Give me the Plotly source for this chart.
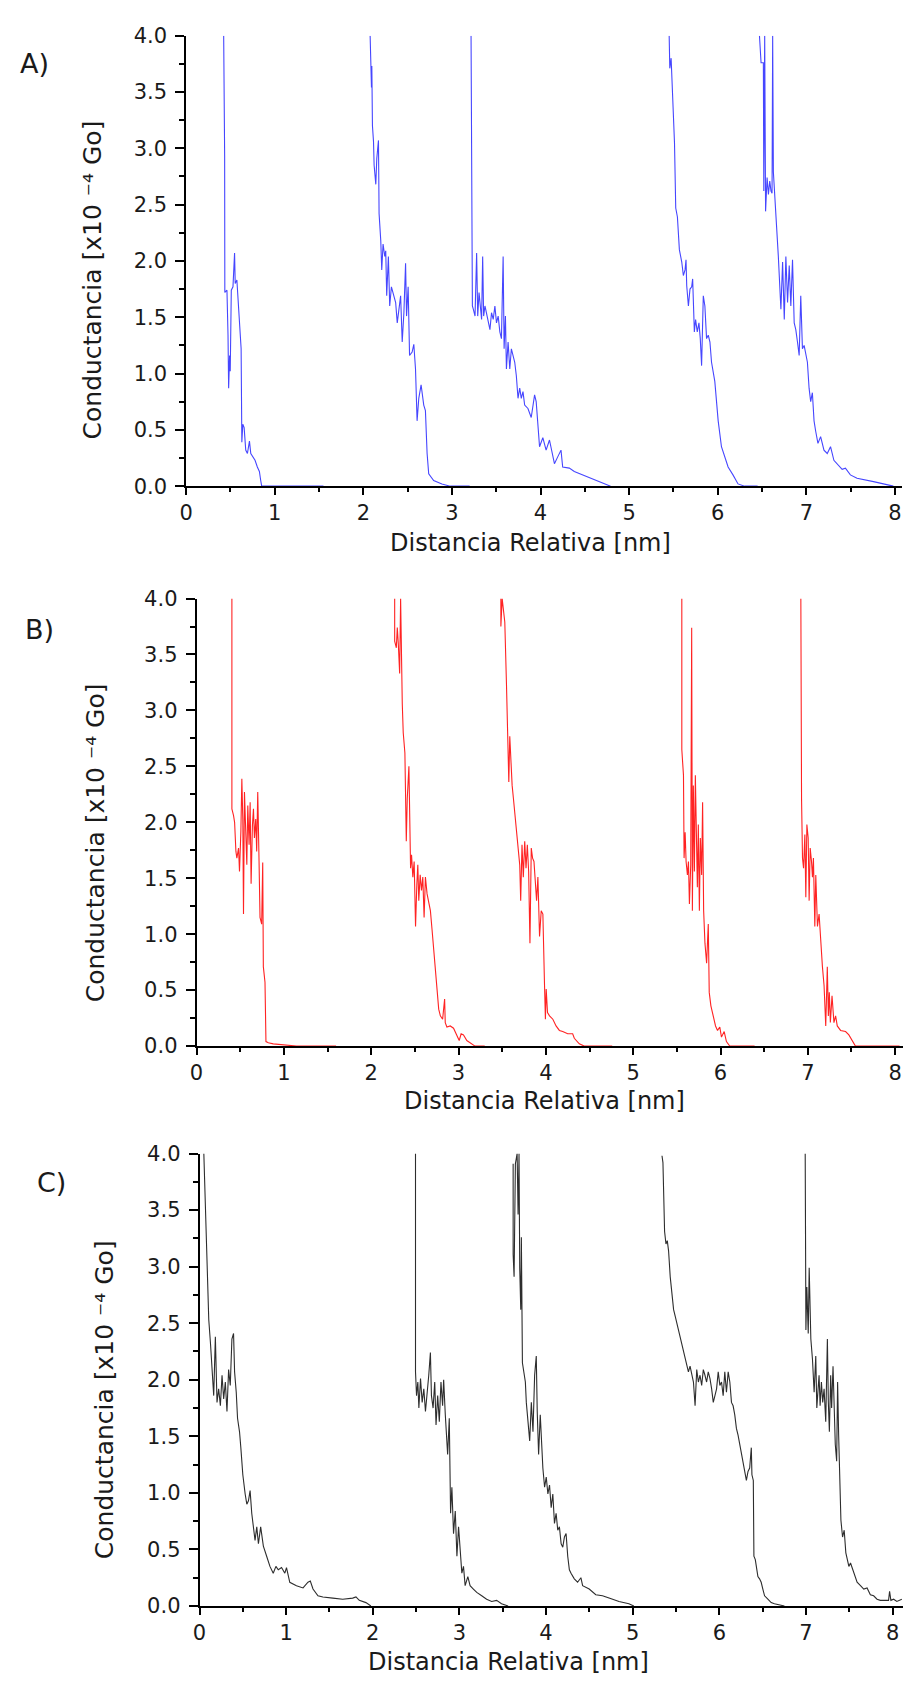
import plotly.graph_objects as go

W, H = 906, 1688

# ---------------- data (x [nm], conductance [x10^-4 Go]) ----------------
# Panel A (blue)
A1 = [(0.424, 4.00), (0.435, 2.93), (0.437, 1.72), (0.461, 1.74), (0.473, 1.34), (0.480, 0.87),
      (0.491, 1.16), (0.498, 1.02), (0.510, 1.74), (0.529, 1.77), (0.547, 2.07), (0.554, 1.80),
      (0.573, 1.83), (0.580, 1.74), (0.592, 1.54), (0.610, 1.39), (0.621, 1.22), (0.629, 0.39),
      (0.640, 0.55), (0.655, 0.52), (0.673, 0.32), (0.692, 0.29), (0.715, 0.40), (0.730, 0.29),
      (0.752, 0.26), (0.778, 0.23), (0.804, 0.17), (0.827, 0.13), (0.842, 0.05), (0.853, 0.0),
      (1.55, 0.0)]
A2 = [(2.077, 4.00), (2.085, 3.82), (2.092, 3.54), (2.096, 3.73), (2.103, 3.20), (2.115, 3.06),
      (2.122, 2.85), (2.141, 2.68), (2.152, 2.91), (2.171, 3.07), (2.178, 2.42), (2.197, 2.18),
      (2.208, 1.92), (2.223, 2.15), (2.242, 2.04), (2.253, 2.09), (2.264, 1.69), (2.283, 2.04),
      (2.298, 1.60), (2.317, 1.77), (2.335, 1.72), (2.365, 1.63), (2.383, 1.45), (2.402, 1.57),
      (2.421, 1.69), (2.439, 1.28), (2.458, 1.54), (2.477, 1.98), (2.488, 1.51), (2.506, 1.77),
      (2.522, 1.16), (2.551, 1.19), (2.570, 1.26), (2.589, 1.04), (2.607, 0.58), (2.626, 0.78),
      (2.652, 0.90), (2.682, 0.72), (2.701, 0.67), (2.720, 0.29), (2.738, 0.11), (2.794, 0.05),
      (2.887, 0.02), (2.981, 0.0), (3.20, 0.0)]
A3 = [(3.216, 4.00), (3.231, 1.60), (3.242, 1.57), (3.261, 1.51), (3.279, 2.07), (3.291, 1.51),
      (3.306, 1.72), (3.320, 1.60), (3.335, 1.48), (3.347, 2.04), (3.358, 1.51), (3.373, 1.60),
      (3.391, 1.54), (3.410, 1.45), (3.429, 1.39), (3.447, 1.54), (3.466, 1.48), (3.485, 1.60),
      (3.503, 1.45), (3.522, 1.51), (3.541, 1.37), (3.559, 1.31), (3.578, 2.04), (3.589, 1.22),
      (3.604, 1.51), (3.615, 1.04), (3.634, 1.28), (3.653, 1.04), (3.671, 1.22), (3.709, 1.10),
      (3.727, 0.98), (3.746, 0.78), (3.765, 0.87), (3.783, 0.78), (3.802, 0.84), (3.821, 0.72),
      (3.858, 0.69), (3.895, 0.61), (3.933, 0.81), (3.951, 0.75), (3.970, 0.52), (3.989, 0.35),
      (4.026, 0.43), (4.063, 0.32), (4.101, 0.41), (4.130, 0.29), (4.157, 0.20), (4.194, 0.26),
      (4.231, 0.32), (4.250, 0.17), (4.325, 0.16), (4.381, 0.13), (4.474, 0.10), (4.661, 0.04),
      (4.791, 0.0)]
A4 = [(5.452, 4.00), (5.459, 3.71), (5.474, 3.80), (5.500, 3.36), (5.512, 3.05), (5.526, 2.47),
      (5.545, 2.39), (5.567, 2.10), (5.594, 1.99), (5.612, 1.87), (5.631, 1.92), (5.642, 2.01),
      (5.650, 1.78), (5.669, 1.60), (5.687, 1.75), (5.706, 1.77), (5.717, 1.84), (5.736, 1.37),
      (5.750, 1.48), (5.769, 1.37), (5.788, 1.45), (5.803, 1.31), (5.818, 1.07), (5.837, 1.69),
      (5.855, 1.60), (5.874, 1.31), (5.893, 1.34), (5.912, 1.28), (5.930, 1.10), (5.967, 0.93),
      (6.005, 0.58), (6.042, 0.35), (6.079, 0.26), (6.117, 0.17), (6.172, 0.10), (6.229, 0.02),
      (6.303, 0.0), (6.45, 0.0)]
A5 = [(6.471, 4.00), (6.489, 3.76), (6.515, 3.76), (6.520, 2.62), (6.530, 4.00), (6.540, 2.44),
      (6.557, 2.74), (6.572, 2.59), (6.587, 2.71), (6.601, 2.62), (6.613, 2.60), (6.620, 4.00),
      (6.628, 2.79), (6.650, 2.50), (6.669, 2.33), (6.684, 2.04), (6.713, 1.57), (6.732, 1.99),
      (6.751, 1.48), (6.769, 2.04), (6.788, 1.63), (6.807, 1.96), (6.825, 1.60), (6.844, 2.01),
      (6.863, 1.45), (6.881, 1.39), (6.900, 1.28), (6.919, 1.16), (6.937, 1.69), (6.956, 1.22),
      (6.975, 1.25), (6.993, 1.16), (7.012, 1.10), (7.031, 0.87), (7.049, 0.75), (7.068, 0.83),
      (7.087, 0.58), (7.105, 0.49), (7.131, 0.38), (7.161, 0.44), (7.199, 0.32), (7.236, 0.29),
      (7.273, 0.35), (7.311, 0.23), (7.348, 0.20), (7.404, 0.15), (7.441, 0.16), (7.497, 0.10),
      (7.572, 0.07), (7.646, 0.06), (7.758, 0.04), (7.870, 0.02), (7.982, 0.0)]

# Panel B (red)
B1 = [(0.405, 4.00), (0.405, 2.12), (0.424, 2.06), (0.436, 2.00), (0.451, 1.74), (0.462, 1.68),
      (0.481, 1.77), (0.492, 1.56), (0.508, 1.92), (0.519, 2.39), (0.530, 2.03), (0.538, 1.18),
      (0.549, 2.27), (0.564, 1.86), (0.576, 1.62), (0.587, 2.15), (0.602, 1.80), (0.614, 2.18),
      (0.625, 1.45), (0.640, 1.97), (0.652, 2.12), (0.663, 1.86), (0.678, 2.03), (0.689, 1.74),
      (0.701, 2.27), (0.716, 1.65), (0.727, 1.15), (0.746, 1.09), (0.758, 1.64), (0.765, 0.71),
      (0.784, 0.57), (0.795, 0.04), (0.822, 0.03), (0.879, 0.02), (0.992, 0.01), (1.144, 0.0),
      (1.598, 0.0)]
B2 = [(2.269, 4.00), (2.269, 3.62), (2.288, 3.56), (2.299, 3.74), (2.311, 3.59), (2.326, 3.33),
      (2.337, 4.00), (2.345, 3.44), (2.356, 3.06), (2.367, 2.80), (2.386, 2.62), (2.402, 1.83),
      (2.413, 2.21), (2.432, 2.50), (2.443, 1.74), (2.451, 1.59), (2.462, 1.71), (2.477, 1.51),
      (2.492, 1.65), (2.508, 1.07), (2.523, 1.45), (2.534, 1.62), (2.545, 1.30), (2.561, 1.53),
      (2.576, 1.39), (2.591, 1.51), (2.606, 1.15), (2.621, 1.51), (2.640, 1.36), (2.659, 1.27),
      (2.678, 1.21), (2.697, 1.04), (2.716, 0.86), (2.735, 0.68), (2.754, 0.57), (2.773, 0.33),
      (2.792, 0.27), (2.818, 0.24), (2.841, 0.42), (2.848, 0.21), (2.867, 0.17), (2.905, 0.18),
      (2.943, 0.16), (2.981, 0.10), (3.008, 0.05), (3.030, 0.11), (3.057, 0.10), (3.095, 0.05),
      (3.152, 0.02), (3.189, 0.0), (3.30, 0.0)]
B3 = [(3.485, 4.00), (3.485, 3.75), (3.500, 4.00), (3.511, 3.91), (3.530, 3.79), (3.549, 3.24),
      (3.561, 2.77), (3.576, 2.36), (3.587, 2.77), (3.598, 2.56), (3.614, 2.33), (3.629, 2.21),
      (3.644, 2.09), (3.663, 1.97), (3.682, 1.83), (3.701, 1.62), (3.712, 1.30), (3.727, 1.80),
      (3.742, 1.51), (3.758, 1.83), (3.773, 1.59), (3.788, 1.80), (3.803, 1.56), (3.818, 0.92),
      (3.833, 1.77), (3.848, 1.68), (3.864, 1.65), (3.879, 1.45), (3.894, 1.30), (3.909, 1.51),
      (3.928, 0.98), (3.947, 1.21), (3.966, 1.18), (3.985, 0.54), (3.995, 0.24), (4.004, 0.51),
      (4.019, 0.30), (4.042, 0.27), (4.080, 0.24), (4.117, 0.18), (4.155, 0.14), (4.193, 0.13),
      (4.250, 0.11), (4.307, 0.11), (4.326, 0.07), (4.383, 0.02), (4.439, 0.0), (4.76, 0.0)]
B4 = [(5.557, 4.00), (5.557, 2.65), (5.576, 2.42), (5.583, 1.68), (5.595, 1.91), (5.606, 1.65),
      (5.621, 1.53), (5.633, 1.65), (5.644, 1.27), (5.659, 1.62), (5.670, 3.74), (5.678, 1.21),
      (5.689, 2.33), (5.701, 1.56), (5.712, 2.42), (5.723, 1.86), (5.735, 1.42), (5.746, 1.98),
      (5.758, 1.21), (5.769, 1.86), (5.784, 1.53), (5.795, 2.18), (5.807, 1.21), (5.822, 0.92),
      (5.841, 0.74), (5.860, 1.09), (5.871, 0.48), (5.890, 0.36), (5.917, 0.27), (5.943, 0.18),
      (5.966, 0.14), (5.992, 0.17), (6.011, 0.08), (6.042, 0.13), (6.068, 0.04), (6.106, 0.0),
      (6.39, 0.0)]
B5 = [(6.920, 4.00), (6.920, 2.39), (6.928, 2.21), (6.939, 1.68), (6.951, 1.59), (6.966, 1.89),
      (6.977, 1.33), (6.989, 1.98), (7.004, 1.86), (7.015, 1.30), (7.027, 1.77), (7.042, 1.65),
      (7.053, 1.51), (7.064, 1.68), (7.080, 1.07), (7.091, 1.53), (7.110, 1.07), (7.129, 1.18),
      (7.148, 0.92), (7.167, 0.71), (7.186, 0.54), (7.205, 0.18), (7.223, 0.71), (7.235, 0.27),
      (7.246, 0.48), (7.258, 0.21), (7.277, 0.45), (7.299, 0.21), (7.318, 0.27), (7.337, 0.18),
      (7.375, 0.14), (7.432, 0.13), (7.470, 0.10), (7.508, 0.05), (7.545, 0.0), (8.05, 0.0)]

# Panel C (black)
C1 = [(0.050, 4.00), (0.069, 3.49), (0.080, 3.31), (0.088, 3.11), (0.095, 2.85), (0.107, 2.53),
      (0.126, 2.33), (0.145, 2.09), (0.164, 1.86), (0.183, 2.38), (0.195, 2.09), (0.202, 1.80),
      (0.221, 1.92), (0.241, 1.77), (0.260, 2.04), (0.279, 1.83), (0.298, 1.98), (0.317, 1.72),
      (0.336, 2.09), (0.355, 1.95), (0.374, 2.36), (0.393, 2.41), (0.405, 2.07), (0.424, 1.89),
      (0.439, 1.66), (0.462, 1.54), (0.477, 1.40), (0.500, 1.16), (0.527, 0.99), (0.546, 0.90),
      (0.565, 0.93), (0.584, 1.02), (0.603, 0.82), (0.622, 0.70), (0.641, 0.58), (0.661, 0.70),
      (0.680, 0.55), (0.706, 0.70), (0.737, 0.53), (0.775, 0.44), (0.813, 0.35), (0.851, 0.29),
      (0.882, 0.35), (0.909, 0.32), (0.947, 0.34), (0.985, 0.29), (1.004, 0.34), (1.042, 0.21),
      (1.119, 0.18), (1.195, 0.16), (1.252, 0.21), (1.279, 0.22), (1.310, 0.15), (1.367, 0.09),
      (1.424, 0.08), (1.539, 0.07), (1.653, 0.06), (1.768, 0.07), (1.806, 0.08), (1.844, 0.05),
      (1.921, 0.03), (1.978, 0.0)]
C2 = [(2.493, 4.00), (2.493, 2.07), (2.505, 1.86), (2.520, 1.98), (2.532, 1.75), (2.551, 2.01),
      (2.570, 1.80), (2.589, 1.92), (2.608, 1.72), (2.627, 1.86), (2.646, 2.04), (2.665, 2.24),
      (2.677, 1.86), (2.696, 1.75), (2.715, 1.98), (2.730, 1.60), (2.749, 1.86), (2.768, 1.63),
      (2.787, 1.98), (2.806, 1.77), (2.818, 2.00), (2.837, 1.69), (2.848, 1.57), (2.864, 1.34),
      (2.883, 1.66), (2.898, 0.82), (2.913, 1.05), (2.932, 0.64), (2.952, 0.84), (2.971, 0.44),
      (2.990, 0.70), (3.009, 0.50), (3.028, 0.29), (3.047, 0.35), (3.066, 0.18), (3.097, 0.26),
      (3.123, 0.18), (3.161, 0.15), (3.200, 0.12), (3.257, 0.09), (3.314, 0.06), (3.372, 0.04),
      (3.429, 0.05), (3.486, 0.02), (3.562, 0.0)]
C3 = [(3.620, 3.91), (3.620, 3.11), (3.631, 2.91), (3.646, 3.91), (3.666, 4.00), (3.677, 3.46),
      (3.688, 4.00), (3.696, 2.99), (3.708, 2.62), (3.715, 3.26), (3.727, 2.15), (3.746, 2.04),
      (3.761, 1.98), (3.772, 1.80), (3.791, 1.66), (3.811, 1.46), (3.830, 1.80), (3.849, 1.54),
      (3.868, 2.04), (3.887, 2.21), (3.898, 1.72), (3.914, 1.34), (3.933, 1.69), (3.952, 1.31),
      (3.963, 1.22), (3.983, 1.05), (4.002, 1.14), (4.021, 0.99), (4.040, 1.07), (4.059, 0.87),
      (4.078, 0.99), (4.097, 0.73), (4.116, 0.82), (4.135, 0.67), (4.154, 0.70), (4.174, 0.55),
      (4.193, 0.52), (4.212, 0.61), (4.231, 0.64), (4.250, 0.44), (4.269, 0.32), (4.288, 0.29),
      (4.326, 0.24), (4.364, 0.21), (4.402, 0.25), (4.422, 0.18), (4.498, 0.15), (4.574, 0.10),
      (4.651, 0.09), (4.727, 0.07), (4.842, 0.04), (4.956, 0.02), (5.013, 0.0)]
C4 = [(5.338, 3.98), (5.349, 3.92), (5.368, 3.31), (5.384, 3.20), (5.399, 3.23), (5.414, 3.14),
      (5.433, 2.91), (5.452, 2.79), (5.472, 2.62), (5.491, 2.56), (5.510, 2.50), (5.529, 2.44),
      (5.548, 2.38), (5.567, 2.33), (5.586, 2.27), (5.605, 2.21), (5.624, 2.15), (5.643, 2.07),
      (5.662, 2.12), (5.682, 2.04), (5.701, 1.98), (5.720, 1.77), (5.739, 2.09), (5.758, 1.98),
      (5.777, 2.04), (5.796, 1.95), (5.815, 2.09), (5.834, 2.04), (5.853, 1.98), (5.872, 2.07),
      (5.892, 2.01), (5.911, 1.92), (5.930, 1.80), (5.949, 1.86), (5.968, 1.92), (5.987, 2.07),
      (6.006, 1.95), (6.025, 1.98), (6.044, 1.86), (6.063, 2.07), (6.082, 1.89), (6.102, 2.07),
      (6.121, 1.98), (6.140, 1.80), (6.159, 1.77), (6.178, 1.69), (6.197, 1.57), (6.216, 1.51),
      (6.235, 1.43), (6.254, 1.34), (6.273, 1.28), (6.292, 1.19), (6.312, 1.11), (6.331, 1.19),
      (6.350, 1.22), (6.369, 1.40), (6.376, 1.16), (6.392, 1.11), (6.399, 0.44), (6.415, 0.41),
      (6.430, 0.32), (6.445, 0.26), (6.464, 0.24), (6.483, 0.21), (6.502, 0.15), (6.522, 0.09),
      (6.560, 0.06), (6.598, 0.03), (6.636, 0.02), (6.751, 0.0)]
C5 = [(6.991, 4.00), (6.991, 3.40), (6.999, 2.44), (7.010, 2.82), (7.026, 2.41), (7.037, 2.99),
      (7.048, 2.50), (7.056, 2.36), (7.075, 2.18), (7.094, 1.89), (7.113, 2.21), (7.125, 1.75),
      (7.140, 1.92), (7.151, 2.04), (7.163, 1.77), (7.178, 1.98), (7.193, 1.80), (7.209, 1.92),
      (7.228, 1.63), (7.239, 2.04), (7.247, 2.36), (7.258, 1.80), (7.270, 1.54), (7.285, 2.04),
      (7.296, 1.75), (7.312, 2.12), (7.327, 1.69), (7.338, 1.43), (7.354, 1.28), (7.365, 1.98),
      (7.377, 1.51), (7.388, 1.16), (7.403, 0.76), (7.422, 0.61), (7.441, 0.67), (7.460, 0.47),
      (7.476, 0.41), (7.495, 0.35), (7.514, 0.38), (7.552, 0.29), (7.590, 0.21), (7.629, 0.18),
      (7.667, 0.15), (7.705, 0.16), (7.743, 0.10), (7.781, 0.09), (7.820, 0.06), (7.858, 0.05),
      (7.896, 0.05), (7.953, 0.05), (7.965, 0.13), (7.980, 0.05), (8.011, 0.06), (8.049, 0.04),
      (8.106, 0.06)]

panel_labels = ["A)", "B)", "C)"]
x_title = "Distancia Relativa [nm]"
y_title = "Conductancia [x10 \u207b\u2074 Go]"

panels = [
    dict(curves=[A1, A2, A3, A4, A5], color="rgb(70,70,255)",
         px=(180.5, 902), py=(24, 481), xmax=8.08,
         xt=(528, 539), yt=(86, 272), lab=(28, 52)),
    dict(curves=[B1, B2, B3, B4, B5], color="rgb(255,35,35)",
         px=(191, 903), py=(595, 1049), xmax=8.09,
         xt=(542, 1105), yt=(89, 843), lab=(33, 626)),
    dict(curves=[C1, C2, C3, C4, C5], color="rgb(45,45,45)",
         px=(194, 903), py=(1158, 1617), xmax=8.12,
         xt=(505, 1674), yt=(99, 1408), lab=(45, 1187)),
]

FONT = "DejaVu Sans"
TXT = "#1a1a1a"

fig = go.Figure()
annotations = []
layout = {}
for i, p in enumerate(panels):
    k = "" if i == 0 else str(i + 1)
    for c in p["curves"]:
        fig.add_trace(go.Scatter(
            x=[pt[0] for pt in c], y=[pt[1] for pt in c],
            mode="lines", line=dict(color=p["color"], width=1.1),
            xaxis="x" + k, yaxis="y" + k, showlegend=False, hoverinfo="skip"))
    layout["xaxis" + k] = dict(
        domain=[p["px"][0] / W, p["px"][1] / W], range=[0, p["xmax"]],
        anchor="y" + k, showline=True, linecolor="black", linewidth=1.6,
        ticks="outside", ticklen=7, tickwidth=1.5, tickcolor="black",
        tick0=0, dtick=1, showgrid=False, zeroline=False,
        tickfont=dict(family=FONT, size=21, color=TXT),
        minor=dict(dtick=0.5, ticks="outside", ticklen=4, tickwidth=1.5,
                   tickcolor="black", showgrid=False),
        fixedrange=True)
    layout["yaxis" + k] = dict(
        domain=[1 - p["py"][1] / H, 1 - p["py"][0] / H], range=[0, 4],
        anchor="x" + k, showline=True, linecolor="black", linewidth=1.6,
        ticks="outside", ticklen=9, tickwidth=1.5, tickcolor="black",
        tick0=0, dtick=0.5, tickformat=".1f", showgrid=False, zeroline=False,
        ticklabelstandoff=4,
        tickfont=dict(family=FONT, size=21, color=TXT),
        minor=dict(dtick=0.25, ticks="outside", ticklen=5, tickwidth=1.5,
                   tickcolor="black", showgrid=False),
        fixedrange=True)
    annotations.append(dict(text=x_title, x=p["xt"][0] / W, y=1 - p["xt"][1] / H,
                            xref="paper", yref="paper", showarrow=False,
                            xanchor="center", yanchor="middle",
                            font=dict(family=FONT, size=24, color=TXT)))
    annotations.append(dict(text=y_title, x=p["yt"][0] / W, y=1 - p["yt"][1] / H,
                            xref="paper", yref="paper", showarrow=False, textangle=-90,
                            xanchor="center", yanchor="middle",
                            font=dict(family=FONT, size=25, color=TXT)))
    annotations.append(dict(text=panel_labels[i], x=p["lab"][0] / W, y=1 - p["lab"][1] / H,
                            xref="paper", yref="paper", showarrow=False,
                            xanchor="center", yanchor="middle",
                            font=dict(family=FONT, size=27, color=TXT)))

fig.update_layout(width=W, height=H, margin=dict(l=0, r=0, t=0, b=0),
                  paper_bgcolor="white", plot_bgcolor="white",
                  annotations=annotations, **layout)
fig.write_html("out.html")
